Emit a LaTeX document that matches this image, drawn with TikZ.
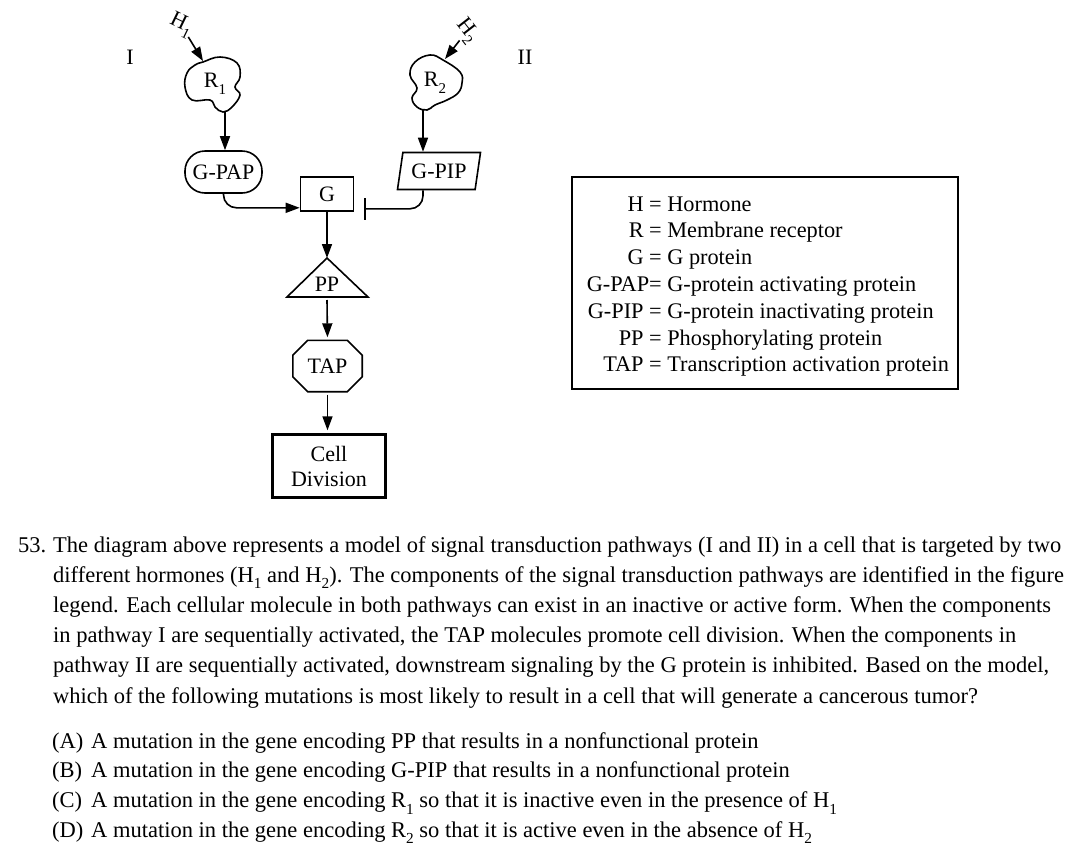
\documentclass[tikz,border=0pt]{standalone}
\usepackage{fontspec}
\setmainfont{Liberation Serif}
\usepackage{graphicx}
\usetikzlibrary{
    calc,
    arrows.meta,
    shapes.geometric
}
\newcommand{\lowsub}[1]{\raisebox{-0.3em}{\scalebox{0.68}{#1}}}
\tikzset{
    sigline/.style={line width=1.6pt},
    flow/.style={sigline, -{Triangle[length=14pt,width=10pt]}},
    inhibit/.style={sigline, -{Bar[width=22pt,line width=1.6pt]}},
    lbl/.style={font=\fontsize{22}{25}\selectfont, inner sep=0pt},
    legendtext/.style={font=\fontsize{22.3}{25}\selectfont, inner sep=0pt, anchor=base west},
    qtext/.style={font=\fontsize{22.5}{30}\selectfont, inner sep=0pt, anchor=base west}
}

\begin{document}
\begin{tikzpicture}[x=1pt,y=-1pt]
    \useasboundingbox (0,0) rectangle (1080,860);

    % pathway labels
    \node[lbl] (p1) at (130,57) {I};
    \node[lbl] (p2) at (525,57) {II};

    % hormones and receptors
    \node[lbl, rotate=-26] (h1) at (181,25) {H\lowsub{1}};
    \node[lbl, rotate=-52] (h2) at (467,31) {H\lowsub{2}};
    \node[lbl] (r1) at (215,84) {R\lowsub{1}};
    \node[lbl] (r2) at (435,83) {R\lowsub{2}};
    \draw[sigline, shift={(r1)}] plot[smooth cycle, tension=0.7] coordinates {
        (-12,-22) (5,-27) (22,-21) (25,-7) (20,3) (25,11) (17,23)
        (8,28) (0,23) (-5,16) (-23,16) (-30,3) (-28,-11) (-20,-19)};
    \draw[sigline, shift={(r2)}] plot[smooth cycle, tension=0.7] coordinates {
        (-5,-28) (8,-23) (25,-11) (27,0) (23,10) (12,17) (0,22)
        (-8,27) (-18,24) (-23,15) (-18,5) (-25,-8) (-20,-21)};
    \coordinate (r1in) at (203,61);
    \coordinate (r2in) at (445,59);
    \coordinate (r1out) at (225,112);
    \coordinate (r2out) at (423,110);
    \draw[flow, shorten <=14pt] (h1.center) -- (r1in);
    \draw[flow, shorten <=12pt] (h2.center) -- (r2in);

    % G-PAP, G-PIP and G
    \node[lbl, draw, sigline, rounded corners=20pt, minimum width=77pt, minimum height=42pt] (gpap) at (223.5,172) {G-PAP};
    \node[lbl, draw, sigline, trapezium, trapezium left angle=70, trapezium right angle=110,
          trapezium stretches body, minimum width=83pt, minimum height=37pt] (gpip) at (439,171) {G-PIP};
    \node[lbl, draw, sigline, minimum width=53pt, minimum height=34pt] (g) at (327,194) {G};

    \draw[flow] (r1out) -- (r1out |- gpap.north);
    \draw[flow] (r2out) -- (r2out |- gpip.north);

    \coordinate (gin) at ([yshift=4pt]g.south west);
    \coordinate (ginh) at ([shift={(10pt,3pt)}]g.south east);
    \draw[flow, rounded corners=13pt] (gpap.south) |- (gin);
    \draw[inhibit, rounded corners=13pt] ([xshift=-16pt]gpip.south) |- (ginh);

    % PP, TAP and cell division
    \coordinate (pptop) at (327,258);
    \coordinate (ppbase) at (327,297);
    \draw[sigline, line join=miter] (pptop) -- (287,297) -- (368,297) -- cycle;
    \node[lbl] (pp) at (327,284) {PP};
    \node[lbl, minimum width=69pt, minimum height=51pt] (tap) at (327.5,366) {TAP};
    \draw[sigline] ([xshift=15pt]tap.north west) -- ([xshift=-15pt]tap.north east)
        -- ([yshift=-15pt]tap.north east) -- ([yshift=15pt]tap.south east)
        -- ([xshift=-15pt]tap.south east) -- ([xshift=15pt]tap.south west)
        -- ([yshift=15pt]tap.south west) -- ([yshift=-15pt]tap.north west) -- cycle;
    \node[lbl, draw, line width=2.4pt, align=center, minimum width=113pt, minimum height=63pt] (cell) at (329,466) {Cell\\Division};

    \draw[flow] (g.south) -- (pptop);
    \draw[flow, shorten >=3pt] ([yshift=-3pt]ppbase) -- (tap.north);
    \draw[flow, shorten >=3pt] ([yshift=-3pt]tap.south) -- (tap.south |- cell.north);

    % legend
    \draw[line width=1.8pt] (572,177) rectangle (958,389);
    \foreach \k/\v [count=\i from 0] in {{H\ }/Hormone, {R\ }/{Membrane receptor}, {G\ }/{G protein},
        {G-PAP}/{G-protein activating protein}, {G-PIP\ }/{G-protein inactivating protein},
        {PP\ }/{Phosphorylating protein}, {TAP\ }/{Transcription activation protein}}
        \node[legendtext] (leg\i) at (649,211+26.8*\i) {\llap{\k}= \v};

    % question
    \node[qtext] (qnum) at (18,552) {53.};
    \foreach \txt [count=\i from 0] in {
        {The diagram above represents a model of signal transduction pathways (I and II) in a cell that is targeted by two},
        {different hormones (H\lowsub{1} and H\lowsub{2}). The components of the signal transduction pathways are identified in the figure},
        {legend. Each cellular molecule in both pathways can exist in an inactive or active form. When the components},
        {in pathway I are sequentially activated, the TAP molecules promote cell division. When the components in},
        {pathway II are sequentially activated, downstream signaling by the G protein is inhibited. Based on the model,},
        {which of the following mutations is most likely to result in a cell that will generate a cancerous tumor?}}
        \node[qtext] (q\i) at (53,552+30.2*\i) {\txt};

    \foreach \o/\txt [count=\i from 0] in {
        A/{A mutation in the gene encoding PP that results in a nonfunctional protein},
        B/{A mutation in the gene encoding G-PIP that results in a nonfunctional protein},
        C/{A mutation in the gene encoding R\lowsub{1} so that it is inactive even in the presence of H\lowsub{1}},
        D/{A mutation in the gene encoding R\lowsub{2} so that it is active even in the absence of H\lowsub{2}}}
    {
        \node[qtext] (opt\o) at (52,748+29.7*\i) {(\o)};
        \node[qtext] (ans\o) at (91,748+29.7*\i) {\txt};
    }
\end{tikzpicture}
\end{document}
